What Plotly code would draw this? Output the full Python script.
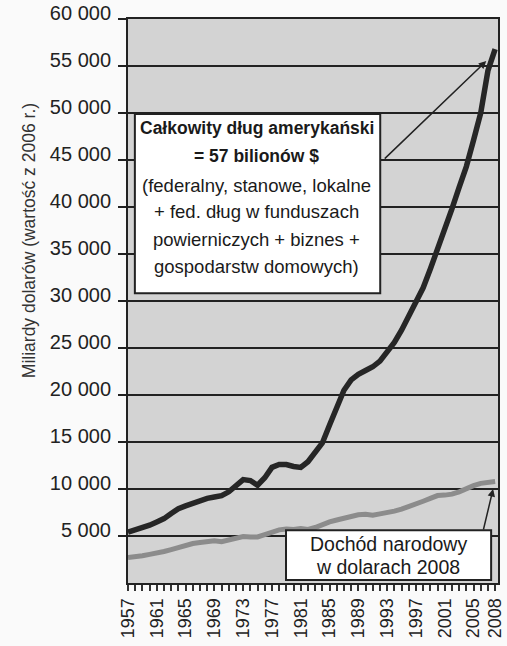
import plotly.graph_objects as go

years = list(range(1957, 2009))
total_debt = [5400, 5600, 5850, 6150, 6500, 6850, 7400, 7900, 8200, 8500,
              8750, 9000, 9150, 9300, 9700, 10300, 11000, 10900, 10400, 11200,
              12300, 12600, 12600, 12400, 12300, 12900, 13900, 14900, 16800, 18800,
              20500, 21600, 22200, 22600, 23000, 23600, 24500, 25600, 26900, 28400,
              29700, 31400, 33400, 35400, 37600, 39800, 42100, 44300, 47100, 50000,
              54500, 56800]
national_income = [2700, 2750, 2900, 3050, 3150, 3350, 3550, 3800, 4000, 4200,
                   4300, 4450, 4500, 4400, 4550, 4800, 4950, 4900, 4900, 5150,
                   5400, 5650, 5750, 5700, 5800, 5700, 5900, 6250, 6500, 6700,
                   6900, 7100, 7250, 7300, 7200, 7350, 7450, 7650, 7850, 8100,
                   8400, 8700, 9000, 9300, 9350, 9450, 9700, 10050, 10350, 10600,
                   10750, 10800]
x_tick_years = [1957, 1961, 1965, 1969, 1973, 1977, 1981, 1985, 1989, 1993,
                1997, 2001, 2005, 2008]
y_ticks = [5000, 10000, 15000, 20000, 25000, 30000, 35000, 40000, 45000,
           50000, 55000, 60000]
y_title = "Miliardy dolarów (wartość z 2006 r.)"
debt_box_lines = ["<b>Całkowity dług amerykański</b>", "<b>= 57 bilionów $</b>",
                  "(federalny, stanowe, lokalne", "+ fed. dług w funduszach",
                  "powierniczych + biznes +", "gospodarstw domowych)"]
income_box_lines = ["Dochód narodowy", "w dolarach 2008"]

W, H = 507, 646
L, R, T, B = 128, 505, 7, 583
FONT = "Liberation Sans, Arial"


def px(x):
    return (x - L) / (R - L)


def py(y):
    return (B - y) / (B - T)


fig = go.Figure()
fig.add_trace(go.Scatter(x=years, y=national_income, mode="lines",
                         line=dict(color="#8c8c8c", width=5), hoverinfo="skip"))
fig.add_trace(go.Scatter(x=years, y=total_debt, mode="lines",
                         line=dict(color="#262626", width=5.5), hoverinfo="skip"))

shapes = [
    dict(type="rect", xref="paper", yref="paper", x0=px(135), x1=px(385),
         y0=py(287), y1=py(104), fillcolor="white",
         line=dict(color="#222", width=2), layer="above"),
    dict(type="rect", xref="paper", yref="paper", x0=px(289), x1=px(498),
         y0=py(580), y1=py(529), fillcolor="white",
         line=dict(color="#222", width=2), layer="above"),
]

annotations = []
box_sizes = [17.5, 17.5, 18.5, 18.5, 18.5, 18.5]
for txt, yy, fs in zip(debt_box_lines, [118, 147, 177, 204, 232, 260], box_sizes):
    annotations.append(dict(xref="paper", yref="paper", x=px(259), y=py(yy),
                            text=txt, showarrow=False, xanchor="center",
                            yanchor="middle",
                            font=dict(family=FONT, size=fs, color="#1a1a1a")))
for txt, yy in zip(income_box_lines, [543, 567]):
    annotations.append(dict(xref="paper", yref="paper", x=px(393), y=py(yy),
                            text=txt, showarrow=False, xanchor="center",
                            yanchor="middle",
                            font=dict(family=FONT, size=19.5, color="#1a1a1a")))
annotations.append(dict(xref="paper", yref="paper", x=px(493), y=py(50), text="",
                        showarrow=True, ax=-103, ay=99, arrowhead=2, arrowsize=1,
                        arrowwidth=1.5, arrowcolor="#222", standoff=0))
annotations.append(dict(xref="paper", yref="paper", x=px(500), y=py(487), text="",
                        showarrow=True, ax=-10, ay=42, arrowhead=2, arrowsize=1,
                        arrowwidth=1.5, arrowcolor="#222", standoff=0))
annotations.append(dict(xref="paper", yref="paper", x=px(27), y=py(233),
                        text=y_title, textangle=-90, showarrow=False,
                        xanchor="center", yanchor="middle",
                        font=dict(family=FONT, size=17.5, color="#333")))

fig.update_layout(
    width=W, height=H,
    margin=dict(l=L, r=W - R, t=T, b=H - B),
    paper_bgcolor="#fafafa", plot_bgcolor="#d3d3d3",
    showlegend=False, separators=". ",
    font=dict(family=FONT, color="#222"),
    shapes=shapes, annotations=annotations,
)
fig.update_xaxes(range=[1957, 2008.4], tickvals=x_tick_years,
                 ticktext=[str(v) for v in x_tick_years], tickangle=-90,
                 ticks="outside", ticklen=6, tickcolor="#333", tickwidth=1.5,
                 minor=dict(dtick=1, ticks="outside", ticklen=6,
                            tickcolor="#333", tickwidth=1.5, showgrid=False),
                 showgrid=False, zeroline=False, showline=True,
                 linecolor="#222", linewidth=2, mirror=True,
                 ticklabeloverflow="allow",
                 tickfont=dict(family=FONT, size=18, color="#222"))
fig.update_yaxes(range=[0, 60000], tickvals=y_ticks, tickformat=",d",
                 ticks="outside", ticklen=8, tickcolor="#222", tickwidth=1.5,
                 showgrid=True, gridcolor="#222", gridwidth=1.5,
                 zeroline=False, showline=True, linecolor="#222", linewidth=2,
                 mirror=True, ticklabelstandoff=3, ticklabelshift=-6,
                 ticklabeloverflow="allow",
                 tickfont=dict(family=FONT, size=20, color="#222"))

fig.write_html("out.html")
